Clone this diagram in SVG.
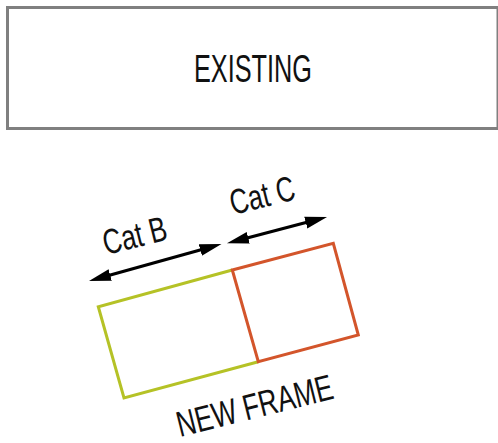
<svg xmlns="http://www.w3.org/2000/svg" width="498" height="443" viewBox="0 0 498 443">
<style>
  .lbl { font-family: "Liberation Sans Narrow", "Liberation Sans", Arial, sans-serif; fill: #111; }
  .dim { stroke: #000; stroke-width: 3.2; fill: none; }
</style>
<defs>
  <marker id="ah" markerUnits="userSpaceOnUse" markerWidth="24" markerHeight="14" refX="11" refY="7" orient="auto-start-reverse">
    <path d="M0,1 L22,7 L0,13 Z" fill="#000"/>
  </marker>
</defs>
<rect width="498" height="443" fill="#fff"/>
<g id="existing">
  <rect x="7.5" y="7.5" width="490.5" height="121" fill="#fff" stroke="#808080" stroke-width="3"/>
  <text class="lbl" x="194" y="82" font-size="38" textLength="118" lengthAdjust="spacingAndGlyphs">EXISTING</text>
</g>
<g id="new-frame">
  <polyline points="232.3,270 98.3,306.7 124,398 258.3,361.7" fill="none" stroke="#b5c226" stroke-width="3"/>
  <polygon points="232.3,270 333.3,243.3 358.3,335 258.3,361.7" fill="none" stroke="#d3552b" stroke-width="3"/>
  <text class="lbl" font-size="36" textLength="160" lengthAdjust="spacingAndGlyphs" transform="translate(180,437) rotate(-14)">NEW FRAME</text>
</g>
<g id="connectors">
  <line class="dim" x1="99.6" y1="278" x2="210.9" y2="247" marker-start="url(#ah)" marker-end="url(#ah)"/>
  <line class="dim" x1="237.6" y1="240.5" x2="316.4" y2="219.8" marker-start="url(#ah)" marker-end="url(#ah)"/>
</g>
<g id="labels">
  <text class="lbl" font-size="35" textLength="65" lengthAdjust="spacingAndGlyphs" transform="translate(106,255) rotate(-14)">Cat B</text>
  <text class="lbl" font-size="35" textLength="66" lengthAdjust="spacingAndGlyphs" transform="translate(233,215) rotate(-14)">Cat C</text>
</g>
</svg>
